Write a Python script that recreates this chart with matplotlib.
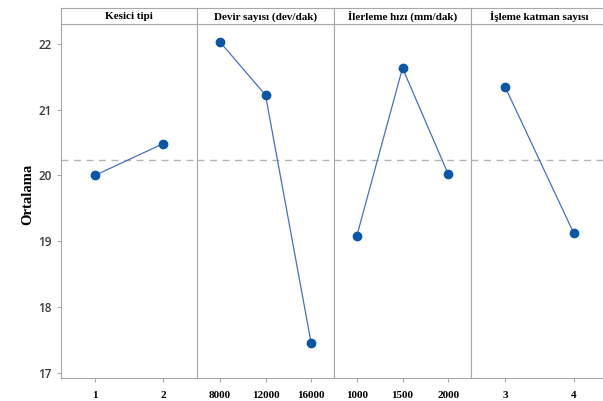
import matplotlib.pyplot as plt

# Main effects data (means)
factors = ['Kesici tipi', 'Devir sayısı (dev/dak)', 'İlerleme hızı (mm/dak)', 'İşleme katman sayısı']
levels = [['1', '2'], ['8000', '12000', '16000'], ['1000', '1500', '2000'], ['3', '4']]
means = [[20.00, 20.48], [22.03, 21.22, 17.45], [19.08, 21.63, 20.02], [21.34, 19.12]]
grand_mean = 20.24

W, H = 603, 401
fig = plt.figure(figsize=(W / 100, H / 100), dpi=100)

edges = [61, 197, 334, 471, 608]
y_bot, y_top, head_top = 378, 24, 8
grey = '#a8a8a8'

for i in range(len(factors)):
    x0 = edges[i] / W
    w = (edges[i + 1] - edges[i]) / W
    ax = fig.add_axes([x0, 1 - y_bot / H, w, (y_bot - y_top) / H])
    n = len(levels[i])
    xs = list(range(n))
    ax.axhline(grand_mean, color='#b4b4b4', ls=(0, (5, 4)), lw=1.0, zorder=1)
    ax.plot(xs, means[i], color='#4670c0', lw=0.9, zorder=2)
    ax.plot(xs, means[i], 'o', color='#0a56a8', ms=6, zorder=3)
    ax.set_xlim(-0.5, n - 0.5)
    ax.set_ylim(16.92, 22.30)
    ax.set_xticks(xs)
    ax.set_xticklabels(levels[i], fontfamily='Liberation Serif', fontweight='bold', fontsize=8)
    for s in ax.spines.values():
        s.set_color(grey)
    ax.tick_params(axis='x', length=3, color=grey, pad=6)
    if i == 0:
        ax.set_yticks([17, 18, 19, 20, 21, 22])
        ax.set_yticklabels(['17', '18', '19', '20', '21', '22'], fontfamily='Open Sans',
                           fontweight='semibold', fontsize=8.5, color='#3a3a3a')
        ax.tick_params(axis='y', length=3, color=grey)
        ax.set_ylabel('Ortalama', fontfamily='Liberation Serif', fontweight='bold', fontsize=10.5)
        ax.yaxis.set_label_coords(-0.2, 0.52)
    else:
        ax.set_yticks([])

    # header strip
    hx = fig.add_axes([x0, 1 - y_top / H, w, (y_top - head_top) / H])
    hx.set_xticks([])
    hx.set_yticks([])
    for s in hx.spines.values():
        s.set_color(grey)
    hx.text(0.5, 0.45, factors[i], ha='center', va='center', transform=hx.transAxes,
            fontfamily='Liberation Serif', fontweight='bold', fontsize=8)

fig.savefig('out.png', dpi=100)
